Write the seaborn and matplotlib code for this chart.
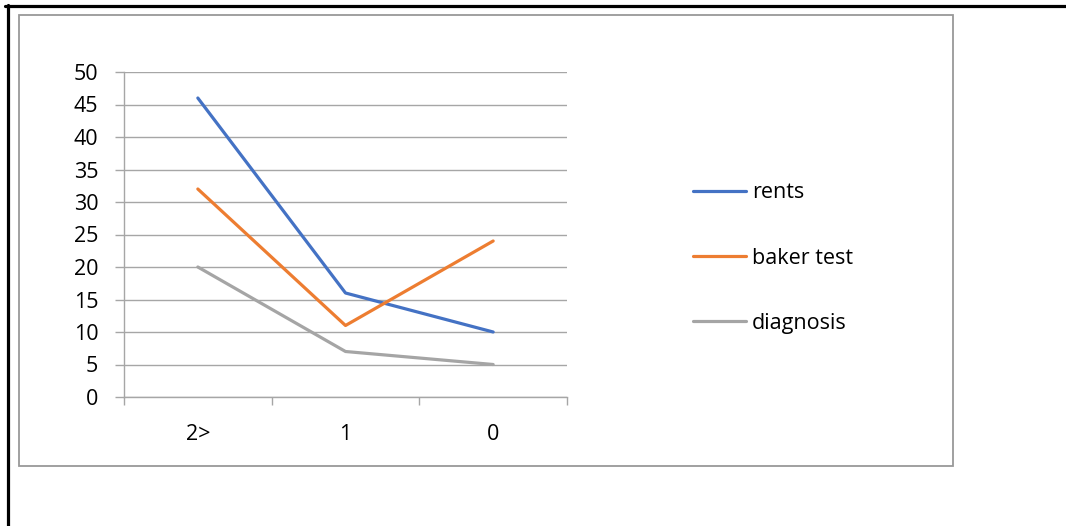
import matplotlib
matplotlib.use("Agg")
import matplotlib.pyplot as plt
from matplotlib.lines import Line2D
from matplotlib.patches import Rectangle
import seaborn as sns
import pandas as pd

categories = ["2>", "1", "0"]
rents = [46, 16, 10]
baker_test = [32, 11, 24]
diagnosis = [20, 7, 5]
series_names = ["rents", "baker test", "diagnosis"]
y_ticks = [0, 5, 10, 15, 20, 25, 30, 35, 40, 45, 50]

df = pd.DataFrame({
    "category": categories * 3,
    "value": rents + baker_test + diagnosis,
    "series": [n for n in series_names for _ in categories],
})

sns.set_theme(style="white")
plt.rcParams["font.family"] = ["Open Sans", "DejaVu Sans"]
plt.rcParams["text.color"] = "black"

W, H = 1066, 526
FS = 15.5
fig = plt.figure(figsize=(W / 100, H / 100), dpi=100)
ax = fig.add_axes([124 / W, 1 - 397 / H, (567 - 124) / W, (397 - 72) / H])

palette = {"rents": "#4472C4", "baker test": "#ED7D31", "diagnosis": "#A5A5A5"}
sns.lineplot(data=df, x="category", y="value", hue="series", palette=palette,
             sort=False, linewidth=2.3, ax=ax)

grid_c = "#A6A6A6"
ax.set_xlim(-0.5, 2.5)
ax.set_ylim(0, 50)
ax.set_yticks(y_ticks)
ax.yaxis.grid(True, color=grid_c, linewidth=1)
ax.set_axisbelow(True)
for s in ["top", "right"]:
    ax.spines[s].set_visible(False)
for s in ["left", "bottom"]:
    ax.spines[s].set_color(grid_c)
    ax.spines[s].set_linewidth(1)
ax.set_xlabel("")
ax.set_ylabel("")

ax.tick_params(axis="y", length=6.5, width=1, color=grid_c, pad=12,
               labelsize=FS, labelcolor="black", left=True)
ax.set_xticks([0, 1, 2])
ax.set_xticklabels(categories)
ax.set_xticks([-0.5, 0.5, 1.5, 2.5], minor=True)
ax.tick_params(axis="x", which="major", length=0, pad=19.5, labelsize=FS,
               labelcolor="black")
ax.tick_params(axis="x", which="minor", length=6, width=1, color=grid_c,
               bottom=True)

handles, labels = ax.get_legend_handles_labels()
leg = ax.legend(handles, labels, loc="center left",
                bbox_to_anchor=(693 / W, 1 - 258 / H),
                bbox_transform=fig.transFigure, frameon=False,
                fontsize=FS, handlelength=2.45, handletextpad=0.28,
                labelspacing=2.05, borderaxespad=0, borderpad=0)
for line in leg.get_lines():
    line.set_linewidth(2.3)
for t in leg.get_texts():
    t.set_color("black")

# chart frame
fig.add_artist(Rectangle((19 / W, 1 - 466 / H), (953 - 19) / W, (466 - 15) / H,
                         transform=fig.transFigure, fill=False,
                         edgecolor="#999999", linewidth=1.3))
# page border
fig.add_artist(Line2D([5 / W, 1.0], [1 - 6 / H, 1 - 6 / H],
                      transform=fig.transFigure, color="black", linewidth=2.3))
fig.add_artist(Line2D([8 / W, 8 / W], [0, 1 - 5 / H],
                      transform=fig.transFigure, color="black", linewidth=2.3))

fig.savefig("out.png", dpi=100)
